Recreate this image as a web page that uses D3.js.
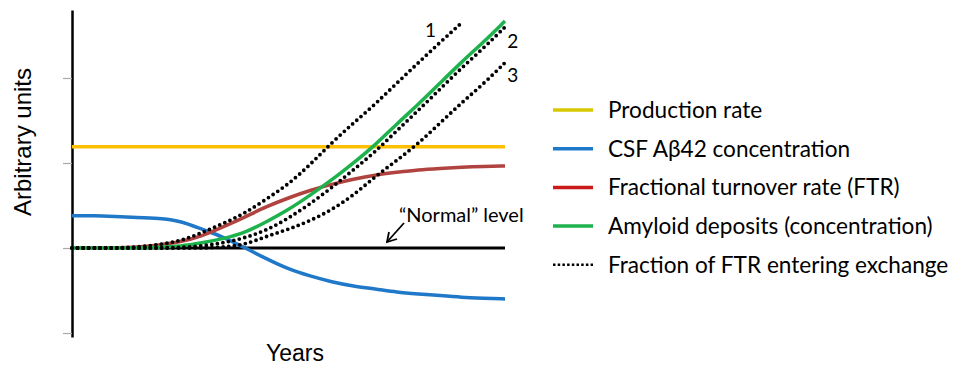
<!DOCTYPE html>
<html>
<head>
<meta charset="utf-8">
<script src="https://cdn.jsdelivr.net/npm/d3@7"></script>
<style>
  body { margin: 0; background: #fff; }
</style>
</head>
<body>
<div id="chart"></div>
<script>
// years grid (arbitrary, 0..100) and values
const years = [0,5,10,15,20,25,30,35,40,45,50,55,60,65,70,75,80,85,90,95,100];
const csfAb42 = [0.38,0.38,0.37,0.36,0.35,0.32,0.22,0.13,0,-0.13,-0.25,-0.33,-0.4,-0.45,-0.48,-0.52,-0.54,-0.56,-0.58,-0.59,-0.6];
const ftr = [0,0,0,0.01,0.035,0.07,0.14,0.25,0.365,0.49,0.59,0.68,0.75,0.81,0.86,0.89,0.92,0.935,0.95,0.96,0.965];
const amyloid = [0,0,0,0,0.01,0.02,0.06,0.11,0.18,0.31,0.45,0.62,0.8,1.0,1.21,1.46,1.69,1.94,2.19,2.42,2.67];
const exchange1 = [0,0,0,0.01,0.04,0.08,0.18,0.29,0.41,0.58,0.75,0.98,1.24,1.47,1.69,1.94,2.18,2.42,2.65];
const exchange2 = [0,0,0,0,0,0.006,0.024,0.06,0.12,0.21,0.35,0.52,0.71,0.92,1.13,1.38,1.62,1.87,2.12,2.35,2.6];
const exchange3 = [0,0,0,0,0,0,0,0.01,0.04,0.14,0.22,0.32,0.45,0.62,0.84,1.03,1.23,1.47,1.71,1.93,2.18];
const levelYears = [0, 100];
const productionRate = [1.19, 1.19];
const normalLevel = [0, 0];
const yTicks = [-1, 0, 1, 2];

const legendNames = ["Production rate", "CSF A\u03b242 concentration", "Fractional turnover rate (FTR)",
                     "Amyloid deposits (concentration)", "Fraction of FTR entering exchange"];
const legendColors = ["#d8c800", "#1f78c8", "#cc1a1a", "#1db24c", "#000"];

const width = 953, height = 368;

const svg = d3.select("#chart").append("svg")
    .attr("width", width)
    .attr("height", height);

const x = d3.scaleLinear().domain([0, 100]).range([72, 505]);
const y = d3.scaleLinear().domain([-1.047, 2.8]).range([337, 10]);

// y axis: ticks only, no labels
const yAxis = svg.append("g")
    .attr("transform", "translate(72,0)")
    .call(d3.axisLeft(y).tickValues(yTicks).tickSize(9).tickSizeOuter(0).tickFormat(""));
yAxis.select(".domain").attr("stroke", "#000").attr("stroke-width", 2.5);
yAxis.selectAll(".tick line").attr("stroke", "#aaa").attr("stroke-width", 1.2);

const line = d3.line()
    .x(d => x(d[0]))
    .y(d => y(d[1]))
    .curve(d3.curveBasis);

function pts(xs, ys) { return ys.map((v, i) => [xs[i], v]); }

svg.append("path")
    .attr("d", line(pts(levelYears, productionRate)))
    .attr("fill", "none").attr("stroke", "#ffc000").attr("stroke-width", 3.5);

svg.append("path")
    .attr("d", line(pts(levelYears, normalLevel)))
    .attr("fill", "none").attr("stroke", "#000").attr("stroke-width", 3);

const solid = [
    {vals: csfAb42, color: "#1f78c8"},
    {vals: ftr, color: "#b0433f"},
    {vals: amyloid, color: "#1db24c"}
];
svg.selectAll(".solid")
    .data(solid)
    .enter()
    .append("path")
    .attr("class", "solid")
    .attr("d", d => line(pts(years, d.vals)))
    .attr("fill", "none")
    .attr("stroke", d => d.color)
    .attr("stroke-width", 3.5);

const dotted = [exchange1, exchange2, exchange3];
svg.selectAll(".dotted")
    .data(dotted)
    .enter()
    .append("path")
    .attr("class", "dotted")
    .attr("d", d => line(pts(years, d)))
    .attr("fill", "none")
    .attr("stroke", "#000")
    .attr("stroke-width", 3.8)
    .attr("stroke-linecap", "round")
    .attr("stroke-dasharray", "0,5.6");

// curve numbers
const numLabels = [
    {t: "1", xv: 81.5, yv: 2.48},
    {t: "2", xv: 100.5, yv: 2.35},
    {t: "3", xv: 100.5, yv: 1.95}
];
svg.selectAll(".num")
    .data(numLabels)
    .enter()
    .append("text")
    .attr("class", "num")
    .attr("x", d => x(d.xv))
    .attr("y", d => y(d.yv))
    .attr("font-family", "Lato, 'Open Sans', sans-serif")
    .attr("font-size", 19)
    .text(d => d.t);

// "Normal" level annotation
svg.append("text")
    .attr("x", 399)
    .attr("y", 222)
    .attr("font-family", "Lato, 'Open Sans', sans-serif")
    .attr("font-size", 20)
    .text("\u201cNormal\u201d level");

const arrow = svg.append("g").attr("stroke", "#000").attr("stroke-width", 1.8).attr("fill", "none");
arrow.append("line").attr("x1", 404).attr("y1", 223).attr("x2", 387).attr("y2", 242);
arrow.append("polyline").attr("points", "389,232 387,242 397,239");

// axis titles
svg.append("text")
    .attr("transform", "translate(31,142) rotate(-90)")
    .attr("text-anchor", "middle")
    .attr("font-family", "'Liberation Sans', Arial, sans-serif")
    .attr("font-size", 24)
    .text("Arbitrary units");

svg.append("text")
    .attr("x", 295)
    .attr("y", 361)
    .attr("text-anchor", "middle")
    .attr("font-family", "'Liberation Sans', Arial, sans-serif")
    .attr("font-size", 23)
    .text("Years");

// legend
const legend = svg.append("g")
    .selectAll("g")
    .data(legendNames)
    .enter()
    .append("g")
    .attr("transform", (d, i) => "translate(553," + (110 + i * 38.7) + ")");

legend.append("line")
    .attr("x1", 0).attr("x2", 40)
    .attr("stroke", (d, i) => legendColors[i])
    .attr("stroke-width", (d, i) => i === 4 ? 2.5 : 3.5)
    .attr("stroke-dasharray", (d, i) => i === 4 ? "2.5,2.2" : null);

legend.append("text")
    .attr("x", 55)
    .attr("y", 8)
    .attr("font-family", "Lato, 'Open Sans', sans-serif")
    .attr("font-size", 22.6)
    .text(d => d);
</script>
</body>
</html>
